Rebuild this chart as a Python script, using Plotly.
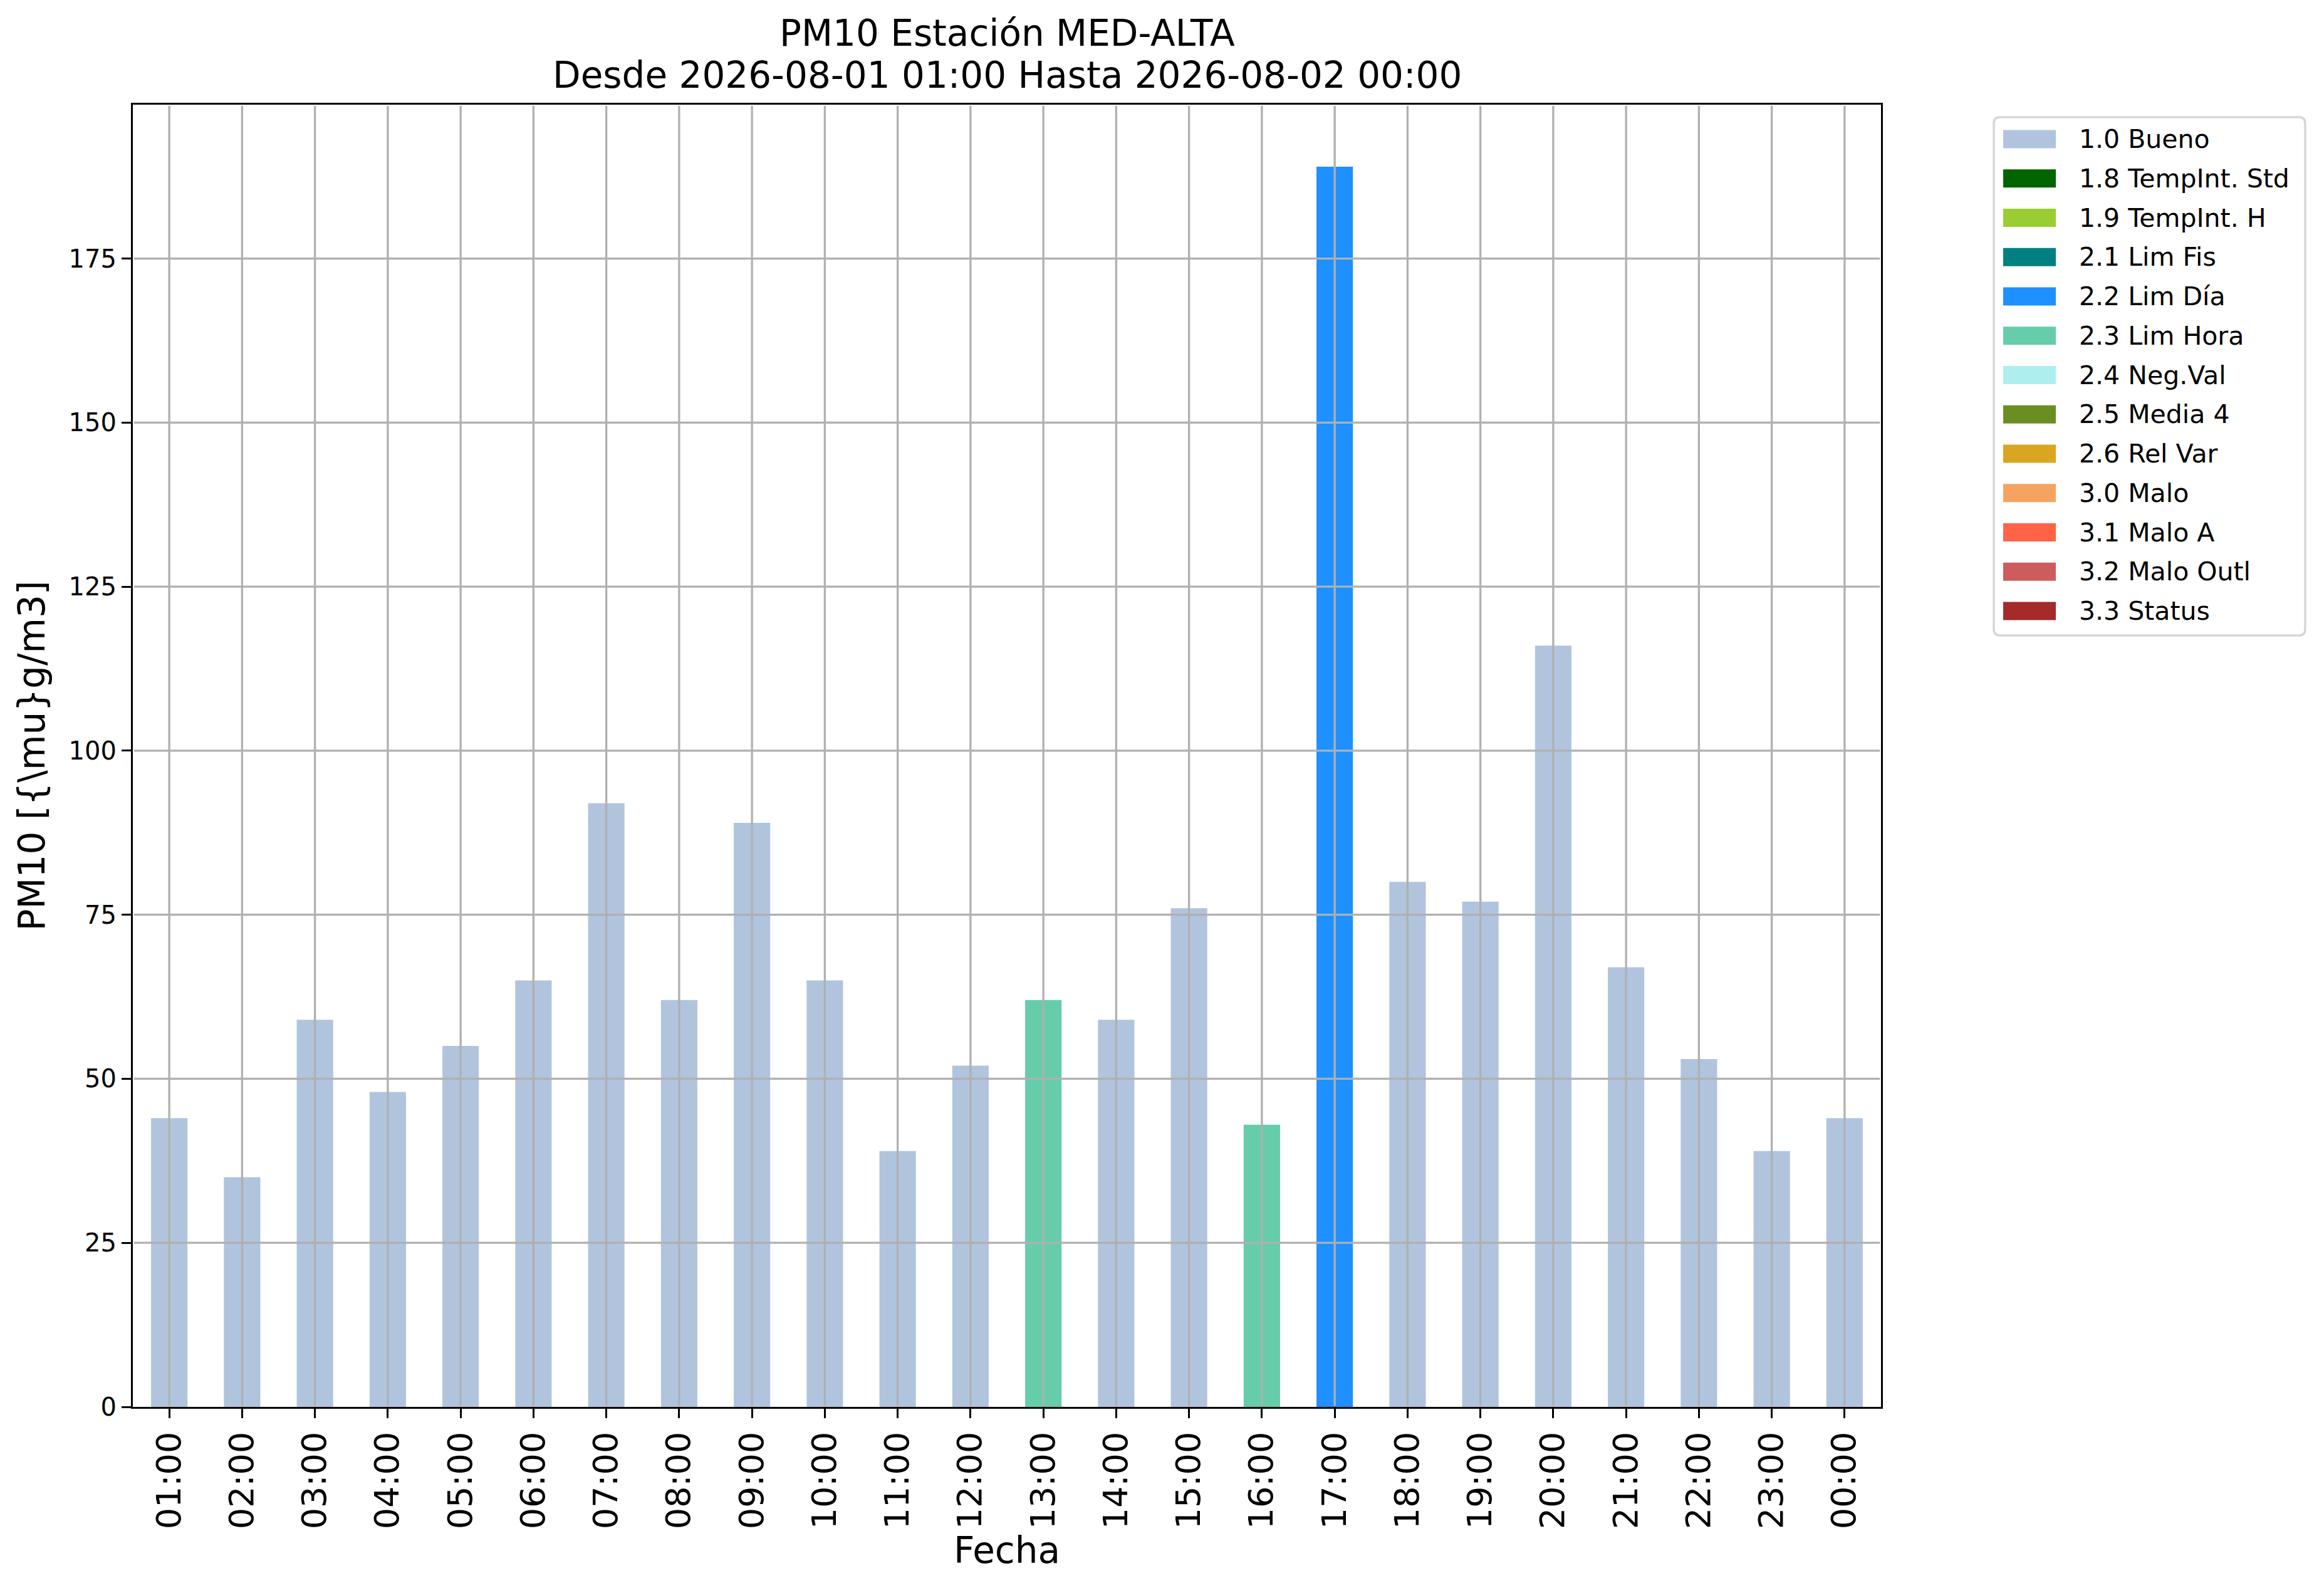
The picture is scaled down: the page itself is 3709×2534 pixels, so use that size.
import plotly.graph_objects as go

# hourly PM10 values and the validation flag of each hour
horas = ["01:00", "02:00", "03:00", "04:00", "05:00", "06:00", "07:00", "08:00",
         "09:00", "10:00", "11:00", "12:00", "13:00", "14:00", "15:00", "16:00",
         "17:00", "18:00", "19:00", "20:00", "21:00", "22:00", "23:00", "00:00"]
valores = [44, 35, 59, 48, 55, 65, 92, 62, 89, 65, 39, 52,
           62, 59, 76, 43, 189, 80, 77, 116, 67, 53, 39, 44]
flags = ["1.0 Bueno"] * 12 + ["2.3 Lim Hora", "1.0 Bueno", "1.0 Bueno", "2.3 Lim Hora",
         "2.2 Lim Día"] + ["1.0 Bueno"] * 7

categorias = ["1.0 Bueno", "1.8 TempInt. Std", "1.9 TempInt. H", "2.1 Lim Fis",
              "2.2 Lim Día", "2.3 Lim Hora", "2.4 Neg.Val", "2.5 Media 4",
              "2.6 Rel Var", "3.0 Malo", "3.1 Malo A", "3.2 Malo Outl", "3.3 Status"]
colores = ["#B0C4DE", "#006400", "#9ACD32", "#008080", "#1E90FF", "#66CDAA",
           "#AFEEEE", "#6B8E23", "#DAA520", "#F4A460", "#FF6347", "#CD5C5C", "#A52A2A"]

y_ticks = [0, 25, 50, 75, 100, 125, 150, 175]
titulo = ["PM10 Estación MED-ALTA", "Desde 2026-08-01 01:00 Hasta 2026-08-02 00:00"]

W, H = 3709, 2534
L, R, T, B = 212, 3002, 167, 2245
FONT = "DejaVu Sans"
GRID = "#b0b0b0"


def px_x(px):
    return (px - L) / (R - L)


def px_y(py):
    return (B - py) / (B - T)


fig = go.Figure()
for cat, col in zip(categorias, colores):
    ys = [v if f == cat else None for v, f in zip(valores, flags)]
    fig.add_trace(go.Bar(x=horas, y=ys, name=cat, marker_color=col,
                         marker_line_width=0, width=0.5, showlegend=False))

shapes = []
annots = []

# grid drawn over the bars, like matplotlib does
ex, ey = 1.7 / (R - L), 1.7 / (B - T)
for h in horas:
    shapes.append(dict(type="line", xref="x", yref="paper", x0=h, x1=h, y0=ey, y1=1 - ey,
                       line=dict(color=GRID, width=3.3), layer="above"))
for t in y_ticks[1:]:
    shapes.append(dict(type="line", xref="paper", yref="y", x0=ex, x1=1 - ex, y0=t, y1=t,
                       line=dict(color=GRID, width=3.3), layer="above"))

# legend drawn by hand so the swatches look like the matplotlib ones
bx0, by0, bx1, by1 = px_x(3182), px_y(187), px_x(3679), px_y(1014)
rx, ry = 10 / (R - L), 10 / (B - T)
shapes.append(dict(
    type="path", xref="paper", yref="paper",
    path=(f"M{bx0 + rx},{by0} L{bx1 - rx},{by0} Q{bx1},{by0} {bx1},{by0 - ry} "
          f"L{bx1},{by1 + ry} Q{bx1},{by1} {bx1 - rx},{by1} L{bx0 + rx},{by1} "
          f"Q{bx0},{by1} {bx0},{by1 + ry} L{bx0},{by0 - ry} Q{bx0},{by0} {bx0 + rx},{by0} Z"),
    line=dict(color="#d6d6d6", width=3.5), fillcolor="white", layer="above"))
for i, (cat, col) in enumerate(zip(categorias, colores)):
    cy = 222 + 62.75 * i
    shapes.append(dict(type="rect", xref="paper", yref="paper",
                       x0=px_x(3197), x1=px_x(3281), y0=px_y(cy - 14.5), y1=px_y(cy + 14.5),
                       fillcolor=col, line_width=0, layer="above"))
    annots.append(dict(text=cat, xref="paper", yref="paper", x=px_x(3316), y=px_y(cy),
                       xanchor="left", yanchor="middle", showarrow=False,
                       font=dict(family=FONT, size=41, color="black")))

# two title lines, centred over the axes
for linea, base in zip(titulo, [75, 142]):
    annots.append(dict(text=linea, xref="paper", yref="paper", x=0.5, y=px_y(base + 14),
                       xanchor="center", yanchor="bottom", showarrow=False,
                       font=dict(family=FONT, size=58, color="black")))

fig.update_layout(
    width=W, height=H,
    margin=dict(l=L, r=W - R, t=T, b=H - B),
    paper_bgcolor="white", plot_bgcolor="white",
    barmode="overlay",
    font=dict(family=FONT, color="black"),
    xaxis=dict(title=dict(text="Fecha", font=dict(size=58), standoff=10),
               tickangle=-90, tickfont=dict(size=54),
               range=[-0.5, len(horas) - 0.5],
               showgrid=False,
               showline=True, linecolor="black", linewidth=3.3, mirror=True,
               ticks="outside", ticklen=15, tickwidth=3.3, tickcolor="black",
               layer="above traces", zeroline=False),
    yaxis=dict(title=dict(text="PM10 [{\\mu}g/m3]", font=dict(size=58), standoff=20),
               tickfont=dict(size=40),
               range=[0, max(valores) * 1.05], tickvals=y_ticks,
               showgrid=False,
               showline=True, linecolor="black", linewidth=3.3, mirror=True,
               ticks="outside", ticklen=15, tickwidth=3.3, tickcolor="black",
               layer="above traces", zeroline=False),
    shapes=shapes, annotations=annots,
)

fig.write_html("out.html", config={"displayModeBar": False},
               post_script="document.body.style.margin='0';")
